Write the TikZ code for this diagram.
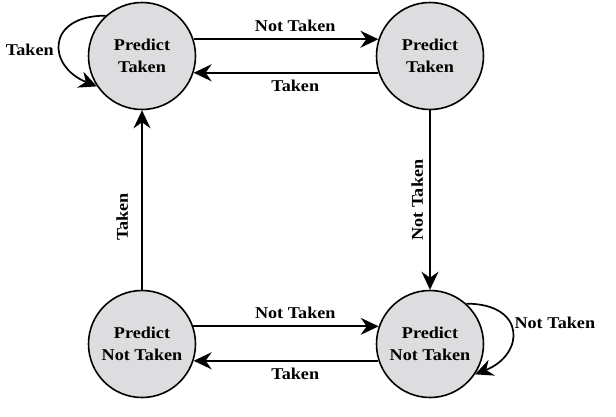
\documentclass[tikz,border=0pt]{standalone}
\usepackage{fontspec}
\setmainfont[FakeStretch=1.1]{Liberation Serif}
\usetikzlibrary{arrows.meta}
\definecolor{statefill}{RGB}{221,221,223}
\begin{document}
\begin{tikzpicture}[x=1pt,y=-1pt,
  state/.style={circle, draw, line width=1.6pt, fill=statefill, minimum size=107pt,
    inner sep=0pt, align=center, font=\fontsize{16.5}{22}\selectfont\bfseries},
  conn/.style={line width=1.7pt, -{Stealth[length=18pt,width=17pt,inset=6pt]}},
  lbl/.style={font=\fontsize{16.5}{22}\selectfont\bfseries, inner sep=1pt}]
\useasboundingbox (0,0) rectangle (616,416);
\node[state] (tl) at (142,56) {Predict\\Taken};
\node[state] (tr) at (430,56) {Predict\\Taken};
\node[state] (bl) at (142,344) {Predict\\Not Taken};
\node[state] (br) at (430,344) {Predict\\Not Taken};
% top pair
\draw[conn] (tl.18) -- node[lbl, pos=0.55, above=6pt] {Not Taken} (tr.162);
\draw[conn] (tr.198) -- node[lbl, pos=0.45, below=5pt] {Taken} (tl.-18);
% bottom pair
\draw[conn] (bl.19) -- node[lbl, pos=0.55, above=6pt] {Not Taken} (br.161);
\draw[conn] (br.198) -- node[lbl, pos=0.45, below=5pt] {Taken} (bl.-18);
% verticals
\draw[conn] (bl.north) -- node[lbl, pos=0.405, rotate=90, anchor=south, outer sep=13pt] {Taken} (tl.south);
\draw[conn] (tr.south) -- node[lbl, pos=0.5, rotate=90, anchor=south, outer sep=6pt] {Not Taken} (br.north);
% self loops
\draw[conn] (tl.132) .. controls +(-60,0) and +(-50,-20) .. node[lbl, pos=0.57, left=5pt] {Taken} (tl.214);
\draw[conn] (br.48) .. controls +(60,0) and +(50,-20) .. node[lbl, pos=0.4, right=3pt] {Not Taken} (br.-34);
\end{tikzpicture}
\end{document}
